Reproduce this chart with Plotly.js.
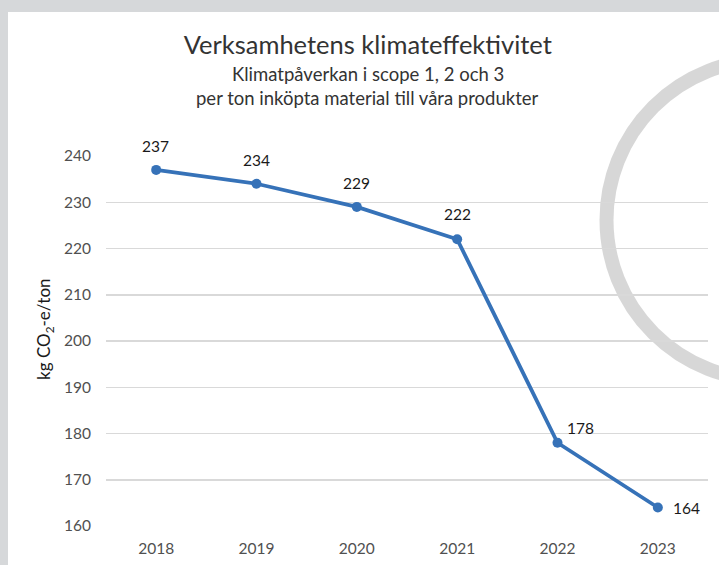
<!DOCTYPE html>
<html>
<head>
<meta charset="utf-8">
<script src="https://cdn.plot.ly/plotly-3.0.1.min.js"></script>
<style>
  html, body { margin: 0; padding: 0; background: #d6d8da; width: 719px; height: 565px; overflow: hidden; }
  #chart { position: absolute; left: 8px; top: 12px; width: 711px; height: 553px; background: #fff; }
</style>
</head>
<body>
<div id="chart"></div>
<script>
// Data
const years = ["2018", "2019", "2020", "2021", "2022", "2023"];
const values = [237, 234, 229, 222, 178, 164];
const labelText = ["237", "234", "229", "222", "178", "164"];
const yTicks = [160, 170, 180, 190, 200, 210, 220, 230, 240];

const FONT = "Lato, 'Open Sans', 'Liberation Sans', sans-serif";
const lineColor = "#3672b8";

// label placement offsets (pixels), per point
const labelDx = [-1, 0, 0, 0, 23, 29];
const labelDy = [24, 24, 24, 25, 15, 0];

const trace = {
  x: years,
  y: values,
  type: "scatter",
  mode: "lines+markers",
  line: { color: lineColor, width: 3.8 },
  marker: { color: lineColor, size: 10 },
  hoverinfo: "x+y",
  cliponaxis: false
};

// annotations on a category axis are positioned by category index
const annotations = values.map((v, i) => ({
  x: i, y: v, xref: "x", yref: "y",
  text: labelText[i], showarrow: false,
  xshift: labelDx[i], yshift: labelDy[i],
  xanchor: "center", yanchor: "middle",
  font: { family: FONT, size: 15.5, color: "#1a1a1a" }
}));

annotations.push({
  xref: "paper", yref: "paper", x: 0.435, y: 1.2216,
  text: "Klimatpåverkan i scope 1, 2 och 3", showarrow: false,
  xanchor: "center", yanchor: "middle",
  font: { family: FONT, size: 18.5, color: "#333333" }
});
annotations.push({
  xref: "paper", yref: "paper", x: 0.435, y: 1.157,
  text: "per ton inköpta material till våra produkter", showarrow: false,
  xanchor: "center", yanchor: "middle",
  font: { family: FONT, size: 18.5, color: "#333333" }
});
annotations.push({
  xref: "paper", yref: "paper", x: -0.1013, y: 0.53,
  text: "kg CO<sub>2</sub>-e/ton", showarrow: false, textangle: -90,
  xanchor: "center", yanchor: "middle",
  font: { family: FONT, size: 17, color: "#1a1a1a" }
});

const layout = {
  width: 711, height: 553,
  margin: { l: 98, r: 11, t: 144, b: 39, pad: 0 },
  paper_bgcolor: "#ffffff",
  plot_bgcolor: "rgba(0,0,0,0)",
  showlegend: false,
  title: {
    text: "Verksamhetens klimateffektivitet",
    x: 0.506, xref: "container", xanchor: "center",
    y: 0.940, yref: "container", yanchor: "middle",
    font: { family: FONT, size: 25.5, color: "#333333" }
  },
  xaxis: {
    type: "category",
    range: [-0.5, 5.5],
    showgrid: false, zeroline: false,
    showline: false, ticks: "",
    tickfont: { family: FONT, size: 15.5, color: "#505050" },
    ticklabelstandoff: 11,
    fixedrange: true
  },
  yaxis: {
    range: [160, 240],
    tickvals: yTicks,
    showgrid: true, gridcolor: "#d9d9d9", gridwidth: 1.5,
    zeroline: false, showline: false, ticks: "",
    tickfont: { family: FONT, size: 15.5, color: "#505050" },
    ticklabelstandoff: 14,
    fixedrange: true
  },
  shapes: [{
    type: "circle", xref: "paper", yref: "paper", layer: "below",
    x0: 0.8314, x1: 1.363, y0: 0.3946, y1: 1.2595,
    line: { color: "rgba(208,208,208,0.85)", width: 14 },
    fillcolor: "rgba(0,0,0,0)"
  }],
  annotations: annotations
};

Plotly.newPlot("chart", [trace], layout, { displayModeBar: false, staticPlot: true });
</script>
</body>
</html>
